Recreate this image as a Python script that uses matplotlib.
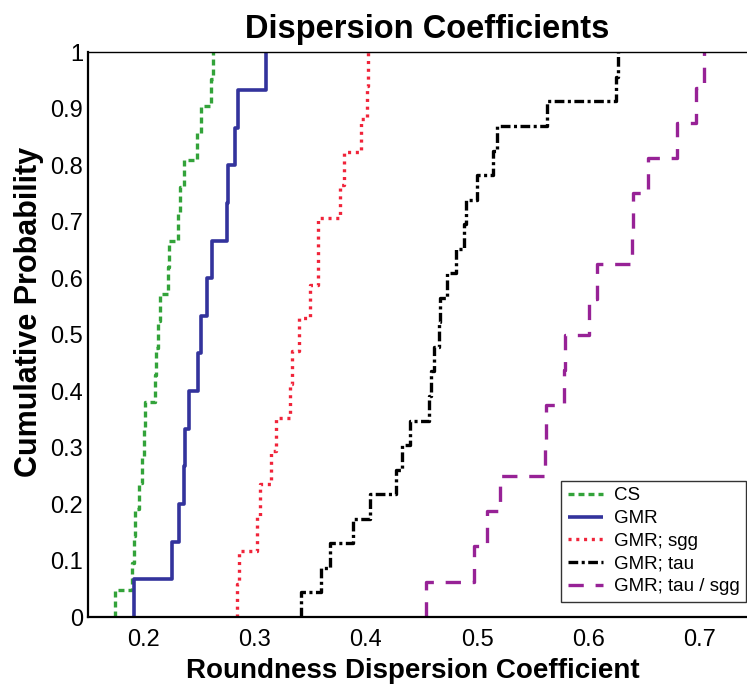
import numpy as np
import matplotlib
matplotlib.use("Agg")
import matplotlib.pyplot as plt

plt.rcParams['font.family'] = ['Liberation Sans', 'DejaVu Sans']
plt.rcParams['lines.scale_dashes'] = False

# Data: sorted sample values of each series (empirical CDF)
cs = [0.1745, 0.1895, 0.191, 0.192, 0.1955, 0.1985, 0.200, 0.201, 0.210, 0.211,
      0.213, 0.215, 0.222, 0.223, 0.231, 0.233, 0.236, 0.248, 0.252, 0.261, 0.2625]
gmr = [0.191, 0.2255, 0.2315, 0.236, 0.237, 0.2405, 0.249, 0.252, 0.257, 0.2615,
       0.275, 0.276, 0.2826, 0.2847, 0.310]
gmr_sgg = [0.284, 0.2856, 0.302, 0.305, 0.315, 0.319, 0.332, 0.3336, 0.340, 0.350,
           0.3568, 0.357, 0.3763, 0.380, 0.3955, 0.4006, 0.4015]
gmr_tau = [0.3412, 0.360, 0.368, 0.388, 0.404, 0.427, 0.4327, 0.440, 0.4568, 0.4583,
           0.4613, 0.4655, 0.4665, 0.4733, 0.4808, 0.4883, 0.4904, 0.5003, 0.5144,
           0.5183, 0.5628, 0.6249, 0.6264]
gmr_tau_sgg = [0.4543, 0.4973, 0.5093, 0.5204, 0.5613, 0.5619, 0.5784, 0.579, 0.6009,
               0.6078, 0.6393, 0.6405, 0.654, 0.6795, 0.697, 0.7045]

labels = ['CS', 'GMR', 'GMR; sgg', 'GMR; tau', 'GMR; tau / sgg']
xticks = [0.2, 0.3, 0.4, 0.5, 0.6, 0.7]
yticks = [0, 0.1, 0.2, 0.3, 0.4, 0.5, 0.6, 0.7, 0.8, 0.9, 1]
ytick_labels = ['0', '0.1', '0.2', '0.3', '0.4', '0.5', '0.6', '0.7', '0.8', '0.9', '1']

series = [cs, gmr, gmr_sgg, gmr_tau, gmr_tau_sgg]
colors = ['#33a33a', '#33339c', '#f0243a', '#000000', '#972296']
dashes = [(4.3, 2.9), None, (2.2, 3.4), (7.0, 2.5, 2.2, 2.5), (11.0, 8.5)]
widths = [2.4, 2.6, 2.4, 2.4, 2.4]

fig = plt.figure(figsize=(7.47, 6.88), dpi=100)
ax = fig.add_axes([88/747, 1-617/688, (755-88)/747, (617-52.3)/688])

for vals, c, d, w, lab in zip(series, colors, dashes, widths, labels):
    v = np.sort(np.asarray(vals))
    n = len(v)
    p = np.arange(1, n + 1) / n
    xs = np.concatenate([[v[0]], v])
    ys = np.concatenate([[0.0], p])
    line, = ax.step(xs, ys, where='post', color=c, lw=w, label=lab,
                    solid_capstyle='butt', dash_capstyle='butt')
    if d is not None:
        line.set_dashes(d)

ax.set_xlim(0.15, 0.75)
ax.set_ylim(0, 1)
ax.set_xticks(xticks)
ax.set_xticklabels([f'{t:g}' for t in xticks])
ax.set_yticks(yticks)
ax.set_yticklabels(ytick_labels)
ax.tick_params(length=0, labelsize=17)
ax.tick_params(axis='x', pad=8.5)
ax.tick_params(axis='y', pad=3.5)
ax.spines['left'].set_linewidth(1.6)
ax.spines['bottom'].set_linewidth(1.6)
ax.spines['top'].set_linewidth(1.0)

fig.text(427/747, 1-38/688, 'Dispersion Coefficients', ha='center', va='baseline',
         fontsize=23.5, fontweight='bold')
fig.text(413/747, 1-678/688, 'Roundness Dispersion Coefficient', ha='center',
         va='baseline', fontsize=20, fontweight='bold')
fig.text(29/747, 1-312/688, 'Cumulative Probability', ha='center', va='center',
         rotation=90, fontsize=22, fontweight='bold')

leg = ax.legend(loc='lower right', bbox_to_anchor=(746/747, 1-602/688),
                bbox_transform=fig.transFigure, fontsize=13.5, frameon=True,
                fancybox=False, handlelength=1.9, handletextpad=0.55,
                labelspacing=0.3, borderpad=0.35, borderaxespad=0)
leg.get_frame().set_edgecolor('black')
leg.get_frame().set_linewidth(1.0)

fig.savefig('out.png', dpi=100)
